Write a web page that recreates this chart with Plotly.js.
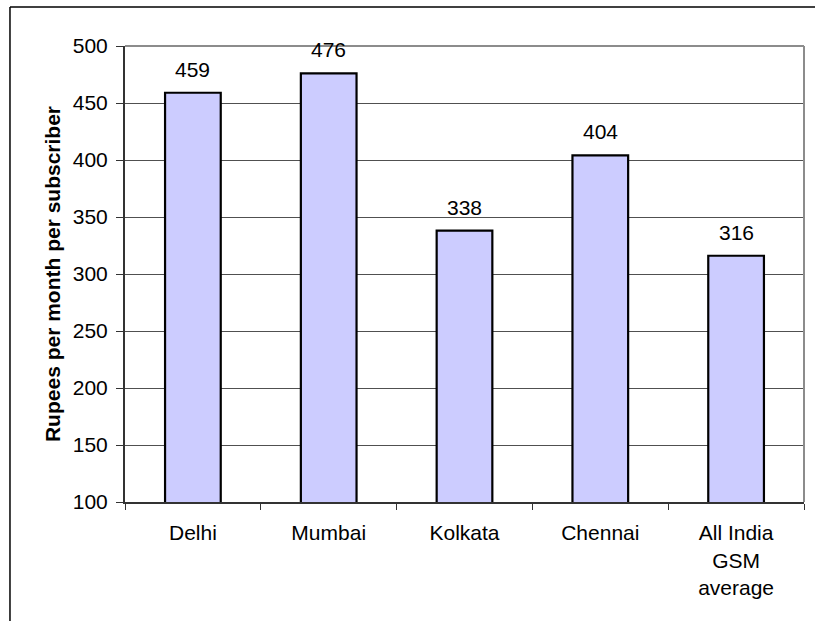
<!DOCTYPE html>
<html>
<head>
<meta charset="utf-8">
<script src="https://cdn.plot.ly/plotly-3.0.1.min.js"></script>
<style>
  html, body { margin: 0; padding: 0; background: #ffffff; }
  #chart { width: 815px; height: 621px; }
</style>
</head>
<body>
<div id="chart"></div>
<script>
// Average revenue per GSM subscriber by circle (Rupees per month)
const categories = ["Delhi", "Mumbai", "Kolkata", "Chennai", "All India GSM average"];
const tickLabels = ["Delhi", "Mumbai", "Kolkata", "Chennai", "All India<br>GSM<br>average"];
const arpu = [459, 476, 338, 404, 316];
const yTicks = [100, 150, 200, 250, 300, 350, 400, 450, 500];

const FONT = "Liberation Sans, Arial, sans-serif";
const FS = 21;

const bars = {
  type: "bar",
  x: categories,
  y: arpu,
  width: 0.41,
  marker: { color: "#CCCCFF", line: { color: "#000000", width: 2.2 } },
  hoverinfo: "x+y"
};

// value labels above each bar
const valueLabels = categories.map((c, i) => ({
  x: c, y: arpu[i], xref: "x", yref: "y",
  text: String(arpu[i]),
  showarrow: false, yanchor: "bottom", yshift: 10,
  font: { family: FONT, size: FS, color: "#000000" }
}));

const layout = {
  width: 815,
  height: 621,
  margin: { l: 125, r: 11, t: 46, b: 119, pad: 0 },
  paper_bgcolor: "#ffffff",
  plot_bgcolor: "#ffffff",
  showlegend: false,
  font: { family: FONT, size: FS, color: "#000000" },
  bargap: 0.59,
  xaxis: {
    type: "category",
    tickmode: "array",
    tickvals: categories,
    ticktext: tickLabels,
    tickson: "boundaries",
    ticks: "outside",
    ticklen: 6,
    tickcolor: "#333333",
    ticklabelstandoff: 11,
    showline: true,
    linecolor: "#333333",
    linewidth: 2,
    showgrid: false,
    tickfont: { family: FONT, size: FS, color: "#000000" },
    automargin: false,
    fixedrange: true
  },
  yaxis: {
    range: [100, 500],
    tickmode: "array",
    tickvals: yTicks,
    ticks: "outside",
    ticklen: 7,
    tickcolor: "#333333",
    ticklabelstandoff: 4,
    showline: true,
    linecolor: "#333333",
    linewidth: 2,
    showgrid: true,
    gridcolor: "#505050",
    gridwidth: 1,
    zeroline: false,
    tickfont: { family: FONT, size: FS, color: "#000000" },
    title: {
      text: "Rupees per month per subscriber",
      font: { family: FONT, size: FS, color: "#000000", weight: "bold" },
      standoff: 6
    },
    automargin: false,
    fixedrange: true
  },
  annotations: valueLabels,
  shapes: [
    // grey plot-area frame on top and right
    { type: "line", xref: "paper", yref: "paper", x0: 0, x1: 1, y0: 1, y1: 1,
      line: { color: "#8c8c8c", width: 2 }, layer: "above" },
    { type: "line", xref: "paper", yref: "paper", x0: 1, x1: 1, y0: 0, y1: 1,
      line: { color: "#8c8c8c", width: 2 }, layer: "above" },
    // outer chart border (left and top edges)
    { type: "line", xref: "paper", yref: "paper", x0: -0.1694, x1: -0.1694, y0: -0.4, y1: 1.0855,
      line: { color: "#000000", width: 1.5 } },
    { type: "line", xref: "paper", yref: "paper", x0: -0.1694, x1: 1.1, y0: 1.0855, y1: 1.0855,
      line: { color: "#000000", width: 1.5 } }
  ]
};

Plotly.newPlot("chart", [bars], layout, { displayModeBar: false, staticPlot: true });
</script>
</body>
</html>
